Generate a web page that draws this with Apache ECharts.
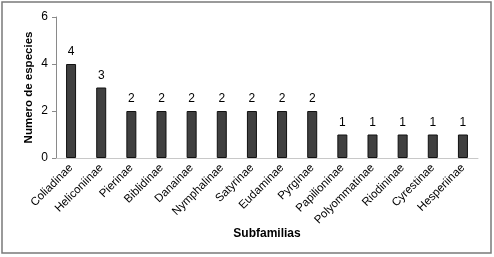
<!DOCTYPE html>
<html>
<head>
<meta charset="utf-8">
<script src="https://cdn.jsdelivr.net/npm/echarts@6/dist/echarts.min.js"></script>
<style>
  html, body { margin: 0; padding: 0; background: #fff; }
  #chart { width: 494px; height: 257px; }
</style>
</head>
<body>
<div id="chart"></div>
<script>
var subfamilias = ['Coliadinae', 'Heliconiinae', 'Pierinae', 'Biblidinae', 'Danainae', 'Nymphalinae',
  'Satyrinae', 'Eudaminae', 'Pyrginae', 'Papilioninae', 'Polyommatinae', 'Riodininae', 'Cyrestinae', 'Hesperiinae'];
var especies = [4, 3, 2, 2, 2, 2, 2, 2, 2, 1, 1, 1, 1, 1];
var yTicks = [0, 2, 4, 6];

var chart = echarts.init(document.getElementById('chart'));
chart.setOption({
  animation: false,
  textStyle: { fontFamily: 'Liberation Sans, Arial, sans-serif' },
  graphic: [{
    type: 'rect',
    shape: { x: 2, y: 2, width: 489, height: 251 },
    style: { fill: 'none', stroke: '#7a7a7a', lineWidth: 1.5 }
  }],
  grid: { left: 56, right: 16, top: 17, bottom: 99 },
  xAxis: {
    type: 'category',
    data: subfamilias,
    name: 'Subfamilias',
    nameLocation: 'middle',
    nameGap: 70,
    nameMoveOverlap: false,
    nameTextStyle: { fontWeight: 'bold', fontSize: 12, color: '#000' },
    axisLine: { lineStyle: { color: '#c8c8c8', width: 1 } },
    axisTick: { show: false },
    axisLabel: { rotate: 45, fontSize: 11.5, color: '#000', margin: 8, interval: 0 }
  },
  yAxis: {
    type: 'value',
    min: yTicks[0],
    max: yTicks[yTicks.length - 1],
    interval: 2,
    name: 'Numero de especies',
    nameLocation: 'middle',
    nameGap: 21,
    nameMoveOverlap: false,
    nameTextStyle: { fontWeight: 'bold', fontSize: 11.5, color: '#000' },
    axisLine: { show: true, lineStyle: { color: '#8a8a8a', width: 1 } },
    axisTick: { show: true, length: 4, lineStyle: { color: '#8a8a8a' } },
    axisLabel: { fontSize: 12, color: '#000', margin: 8 },
    splitLine: { show: false }
  },
  series: [{
    type: 'bar',
    data: especies,
    barWidth: 10,
    itemStyle: { color: '#404040', borderColor: '#111', borderWidth: 1 },
    label: { show: true, position: 'top', fontSize: 12, color: '#000', distance: 6 }
  }]
});
</script>
</body>
</html>
